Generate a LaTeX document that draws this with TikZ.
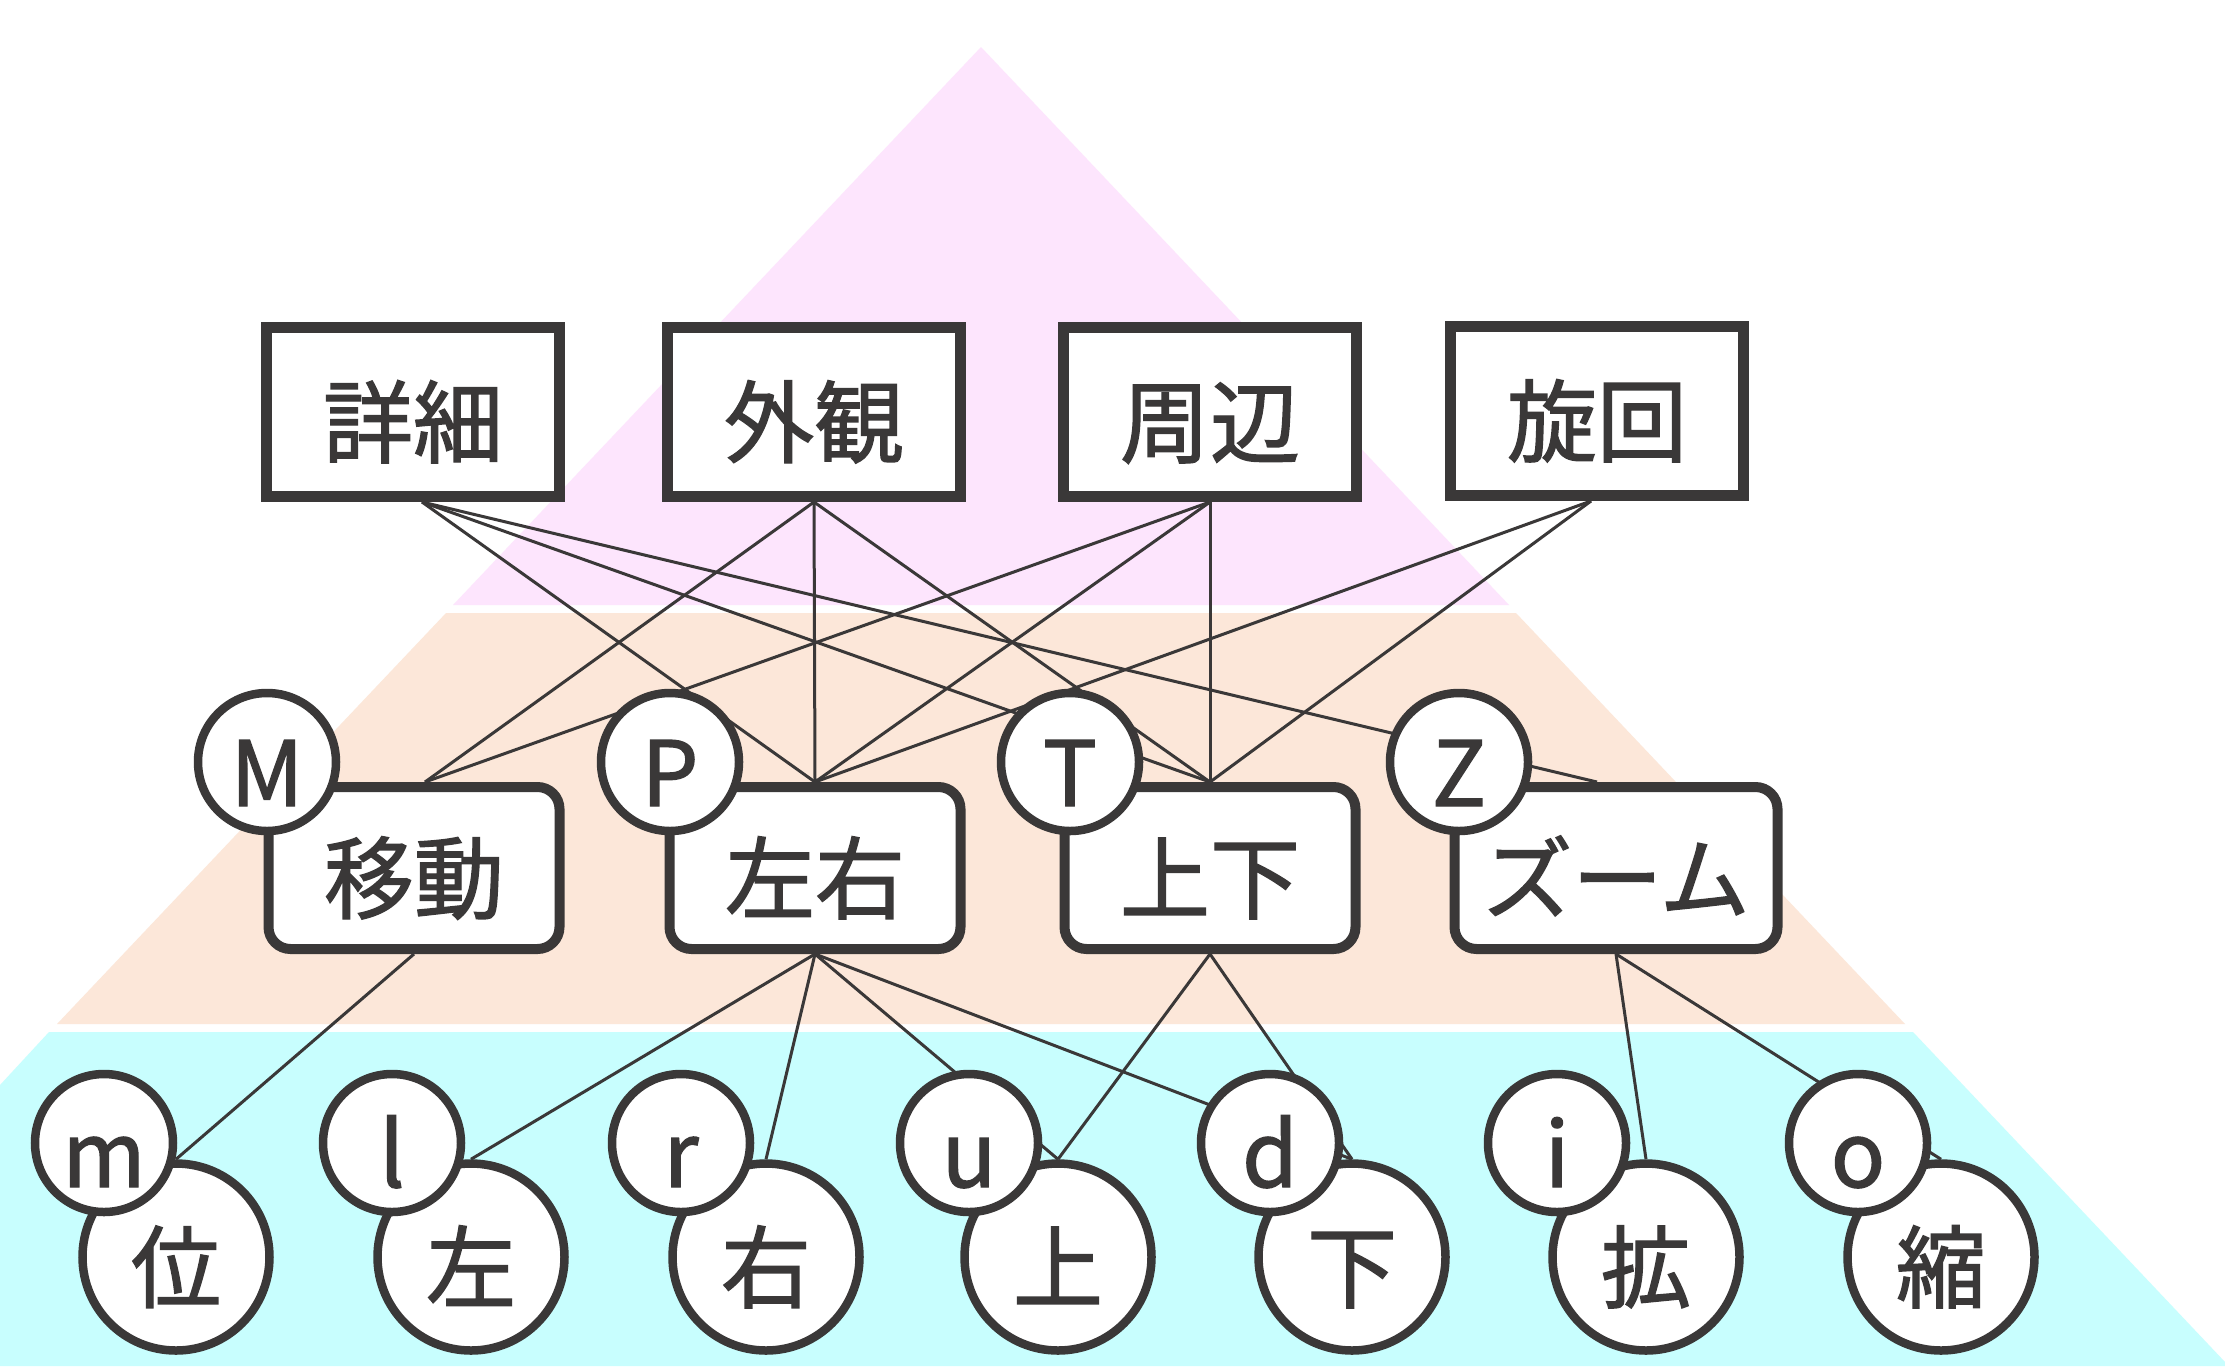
\documentclass[tikz,border=0pt]{standalone}
\usepackage{fontspec}
\setmainfont{Noto Sans CJK JP}[FakeBold=1.5]
\usetikzlibrary{calc}
\definecolor{ink}{HTML}{3A3838}
\definecolor{bandpink}{HTML}{FDE5FD}
\definecolor{bandpeach}{HTML}{FCE7D9}
\definecolor{bandcyan}{HTML}{C8FEFE}
\pgfdeclarelayer{back}
\pgfdeclarelayer{lines}
\pgfsetlayers{back,lines,main}
\begin{document}
\begin{tikzpicture}[x=0.5pt,y=-0.5pt,
  lbl/.style={text=ink, font=\fontsize{45}{50}\selectfont, text height=44pt, text depth=0pt},
  topbox/.style={lbl, draw=ink, line width=5.5pt, fill=white, minimum width=146.5pt, minimum height=84.5pt, inner sep=0pt},
  midbox/.style={lbl, draw=ink, line width=5pt, fill=white, rounded corners=11pt, minimum width=145.5pt, minimum height=81pt, inner sep=0pt},
  keyc/.style={lbl, circle, draw=ink, line width=4.25pt, fill=white, minimum size=69pt, inner sep=0pt},
  bigc/.style={lbl, circle, draw=ink, line width=4.25pt, fill=white, minimum size=93.5pt, inner sep=0pt},
  link/.style={draw=ink, line width=1.5pt}]
\useasboundingbox (0,0) rectangle (2225,1366);
\begin{pgfonlayer}{back}
  \fill[white] (0,0) rectangle (2225,1366);
  \fill[bandpink] (981,47) -- (1509,605) -- (453,605) -- cycle;
  \fill[bandpeach] (446,613) -- (1516,613) -- (1905,1024) -- (57,1024) -- cycle;
  \fill[bandcyan] (49,1032) -- (1913,1032) -- (2225,1362) -- (2225,1366) -- (0,1366) -- (0,1085) -- cycle;
\end{pgfonlayer}

% top layer
\node[topbox] (xs) at (413,412) {詳細};
\node[topbox] (wg) at (814,412) {外観};
\node[topbox] (zb) at (1210,412) {周辺};
\node[topbox] (xh) at (1597,411) {旋回};

% middle layer
\node[midbox] (yd) at (414,868) {移動};
\node[midbox] (zy) at (815,868) {左右};
\node[midbox] (sx) at (1210,868) {上下};
\node[midbox, minimum width=161.5pt] (zm) at (1616,868) {ズーム};
\node[keyc] (kM) at (267,762) {M};
\node[keyc] (kP) at (670,762) {P};
\node[keyc] (kT) at (1070,762) {T};
\node[keyc] (kZ) at (1459,762) {Z};

% bottom layer
\node[bigc] (bw) at (176,1257) {位};
\node[bigc] (bl) at (471,1257) {左};
\node[bigc] (br) at (766,1257) {右};
\node[bigc] (bu) at (1058,1257) {上};
\node[bigc] (bd) at (1352,1257) {下};
\node[bigc] (bi) at (1646,1257) {拡};
\node[bigc] (bo) at (1941,1257) {縮};
\node[keyc] (km) at (104,1143) {m};
\node[keyc] (kl) at (392,1143) {l};
\node[keyc] (kr) at (681,1143) {r};
\node[keyc] (ku) at (969,1143) {u};
\node[keyc] (kd) at (1270,1143) {d};
\node[keyc] (ki) at (1557,1143) {i};
\node[keyc] (ko) at (1858,1143) {o};

\begin{pgfonlayer}{lines}
  \coordinate (xsS) at ($(xs.south)+(9,0)$);
  \coordinate (xhS) at ($(xh.south)+(-6,0)$);
  \coordinate (ydN) at ($(yd.north)+(11,0)$);
  \coordinate (zmN) at ($(zm.north)+(-19,0)$);
  \draw[link] (xsS) -- (zy.north);
  \draw[link] (xsS) -- (sx.north);
  \draw[link] (xsS) -- (zmN);
  \draw[link] (wg.south) -- (ydN);
  \draw[link] (wg.south) -- (zy.north);
  \draw[link] (wg.south) -- (sx.north);
  \draw[link] (zb.south) -- (ydN);
  \draw[link] (zb.south) -- (zy.north);
  \draw[link] (zb.south) -- (sx.north);
  \draw[link] (xhS) -- (zy.north);
  \draw[link] (xhS) -- (sx.north);
  \draw[link] (yd.south) -- (bw.north);
  \draw[link] (zy.south) -- (bl.north);
  \draw[link] (zy.south) -- (br.north);
  \draw[link] (zy.south) -- (bu.north);
  \draw[link] (zy.south) -- (bd.north);
  \draw[link] (sx.south) -- (bu.north);
  \draw[link] (sx.south) -- (bd.north);
  \draw[link] (zm.south) -- (bi.north);
  \draw[link] (zm.south) -- (bo.north);
\end{pgfonlayer}
\end{tikzpicture}
\end{document}
